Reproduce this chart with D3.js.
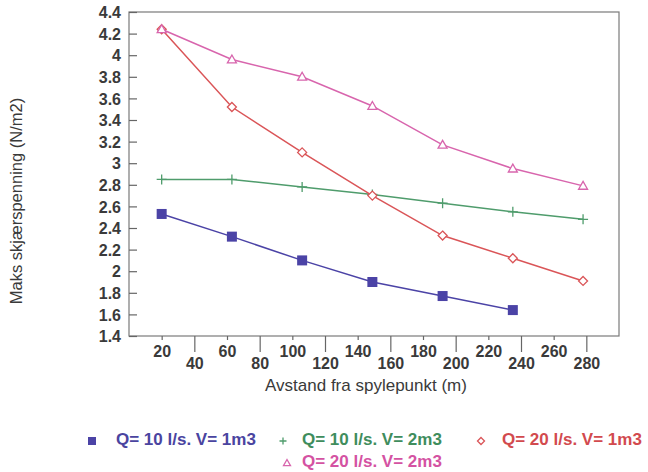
<!DOCTYPE html>
<html lang="no">
<head>
<meta charset="UTF-8">
<title>Maks skjærspenning</title>
<script src="https://d3js.org/d3.v7.min.js"></script>
<style>
  body { margin: 0; background: #fff; }
  svg { font-family: "Liberation Sans", Arial, sans-serif; }
</style>
</head>
<body>
<div id="chart"></div>
<script>
// distances (m)
const distances = [20, 63, 106, 149, 192, 235, 278];
const xTicks = [20, 40, 60, 80, 100, 120, 140, 160, 180, 200, 220, 240, 260, 280];
const yTicks = [1.4, 1.6, 1.8, 2, 2.2, 2.4, 2.6, 2.8, 3, 3.2, 3.4, 3.6, 3.8, 4, 4.2, 4.4];

// series values (N/m2)
const q10v1 = [2.53, 2.32, 2.10, 1.90, 1.77, 1.64];
const q10v2 = [2.85, 2.85, 2.78, 2.71, 2.63, 2.55, 2.48];
const q20v1 = [4.24, 3.52, 3.10, 2.70, 2.33, 2.12, 1.91];
const q20v2 = [4.24, 3.96, 3.80, 3.53, 3.17, 2.95, 2.79];

const seriesNames = ["Q= 10 l/s. V= 1m3", "Q= 10 l/s. V= 2m3", "Q= 20 l/s. V= 1m3", "Q= 20 l/s. V= 2m3"];

const series = [
  { name: seriesNames[0], values: q10v1, color: "#4b43a6", text: "#4a44a0", marker: "square" },
  { name: seriesNames[1], values: q10v2, color: "#4f9c6c", text: "#3f8d5d", marker: "plus" },
  { name: seriesNames[2], values: q20v1, color: "#da5558", text: "#d24a4e", marker: "diamond" },
  { name: seriesNames[3], values: q20v2, color: "#d865ad", text: "#d452a2", marker: "triangle" }
];

const W = 648, H = 472;
const svg = d3.select("#chart").append("svg")
  .attr("width", W).attr("height", H);

const x = d3.scaleLinear().domain([0, 300]).range([129, 619]);
const y = d3.scaleLinear().domain([1.4, 4.4]).range([336, 12]);

// frame
svg.append("rect")
  .attr("x", x(0)).attr("y", y(4.4))
  .attr("width", x(300) - x(0)).attr("height", y(1.4) - y(4.4))
  .attr("fill", "none").attr("stroke", "#7a7a7a").attr("stroke-width", 1.2);

// y axis
const yAxis = svg.append("g")
  .attr("transform", `translate(${x(0)},0)`)
  .call(d3.axisLeft(y).tickValues(yTicks).tickSize(-8).tickPadding(8)
    .tickFormat(d => d3.format("")(+d.toFixed(1))));
yAxis.select(".domain").remove();
yAxis.selectAll(".tick line").attr("stroke", "#666").attr("stroke-width", 1.2);
yAxis.selectAll(".tick text")
  .attr("fill", "#3a3a3a").style("font-size", "16px").style("font-weight", "bold")
  .attr("dy", "0.35em");

// x axis with staggered labels
const xAxis = svg.append("g")
  .attr("transform", `translate(0,${y(1.4)})`)
  .call(d3.axisBottom(x).tickValues(xTicks).tickSize(4).tickPadding(0));
xAxis.select(".domain").remove();
xAxis.selectAll(".tick line")
  .attr("stroke", "#666").attr("stroke-width", 1.2)
  .attr("y2", (d, i) => i % 2 ? 16 : 4);
xAxis.selectAll(".tick text")
  .attr("fill", "#3a3a3a").style("font-size", "16px").style("font-weight", "bold")
  .attr("y", (d, i) => i % 2 ? 27 : 15)
  .attr("dy", "0.35em");

// axis titles
svg.append("text")
  .attr("x", 366).attr("y", 387)
  .attr("text-anchor", "middle").attr("dominant-baseline", "middle")
  .attr("fill", "#3a3a3a").style("font-size", "17px")
  .text("Avstand fra spylepunkt (m)");

svg.append("text")
  .attr("transform", "translate(18,201) rotate(-90)")
  .attr("text-anchor", "middle").attr("dominant-baseline", "middle")
  .attr("fill", "#3a3a3a").style("font-size", "16.5px")
  .text("Maks skjærspenning (N/m2)");

// markers
function drawMarker(g, type, cx, cy, color, s) {
  if (type === "square") {
    g.append("rect").attr("x", cx - s / 2).attr("y", cy - s / 2)
      .attr("width", s).attr("height", s).attr("fill", color);
  } else if (type === "plus") {
    g.append("path").attr("d", `M${cx - s / 2},${cy}H${cx + s / 2}M${cx},${cy - s / 2}V${cy + s / 2}`)
      .attr("stroke", color).attr("stroke-width", 1.3).attr("fill", "none");
  } else if (type === "diamond") {
    const r = s / 2;
    g.append("path").attr("d", `M${cx},${cy - r}L${cx + r},${cy}L${cx},${cy + r}L${cx - r},${cy}Z`)
      .attr("stroke", color).attr("stroke-width", 1.3).attr("fill", "#fff");
  } else if (type === "triangle") {
    const r = s / 2;
    g.append("path").attr("d", `M${cx},${cy - r}L${cx + r},${cy + r * 0.75}L${cx - r},${cy + r * 0.75}Z`)
      .attr("stroke", color).attr("stroke-width", 1.3).attr("fill", "#fff");
  }
}

const line = d3.line().x((d, i) => x(distances[i])).y(d => y(d));

series.forEach(s => {
  const g = svg.append("g");
  g.append("path").datum(s.values)
    .attr("d", line)
    .attr("fill", "none").attr("stroke", s.color).attr("stroke-width", 1.5);
  s.values.forEach((v, i) => {
    const size = s.marker === "square" ? 10 : (s.marker === "plus" ? 10 : 9);
    drawMarker(g, s.marker, x(distances[i]), y(v), s.color, size);
  });
});

// legend
const legendPos = [
  { mx: 92, tx: 116, y: 441 },
  { mx: 283, tx: 302, y: 441 },
  { mx: 481, tx: 502, y: 441 },
  { mx: 287, tx: 302, y: 463 }
];
series.forEach((s, i) => {
  const p = legendPos[i];
  const g = svg.append("g");
  const size = s.marker === "square" ? 8 : 7;
  drawMarker(g, s.marker, p.mx, p.y, s.color, size);
  g.append("text")
    .attr("x", p.tx).attr("y", p.y)
    .attr("dominant-baseline", "middle")
    .attr("fill", s.text).style("font-size", "17px").style("font-weight", "bold")
    .text(s.name);
});
</script>
</body>
</html>
